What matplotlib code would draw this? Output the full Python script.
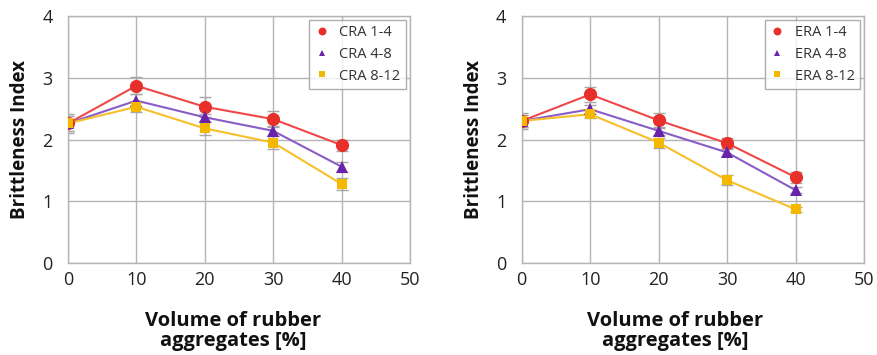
import matplotlib
matplotlib.use("Agg")
import matplotlib.pyplot as plt

volume = [0, 10, 20, 30, 40]

cra_labels = ["CRA 1-4", "CRA 4-8", "CRA 8-12"]
cra_14 = [2.26, 2.87, 2.53, 2.33, 1.91]
cra_48 = [2.26, 2.63, 2.36, 2.14, 1.56]
cra_812 = [2.26, 2.53, 2.18, 1.95, 1.28]
cra_14_err = [0.15, 0.14, 0.16, 0.13, 0.09]
cra_48_err = [0.12, 0.10, 0.06, 0.08, 0.08]
cra_812_err = [0.12, 0.08, 0.10, 0.10, 0.09]

era_labels = ["ERA 1-4", "ERA 4-8", "ERA 8-12"]
era_14 = [2.30, 2.73, 2.31, 1.94, 1.39]
era_48 = [2.30, 2.49, 2.14, 1.79, 1.18]
era_812 = [2.30, 2.41, 1.95, 1.34, 0.87]
era_14_err = [0.13, 0.12, 0.12, 0.08, 0.09]
era_48_err = [0.10, 0.07, 0.06, 0.06, 0.05]
era_812_err = [0.10, 0.06, 0.08, 0.08, 0.04]

x_ticks = [0, 10, 20, 30, 40, 50]
y_ticks = [0, 1, 2, 3, 4]

plt.rcParams["font.family"] = ["Open Sans", "DejaVu Sans"]

line_colors = ["#f04848", "#8a5cc8", "#f7c02a"]
marker_colors = ["#e8302a", "#6a22a8", "#f5b800"]
markers = ["o", "^", "s"]
msizes = [9.5, 8, 7.5]

fig = plt.figure(figsize=(8.78, 3.55), dpi=100)

def panel(rect, series, errs, labels, xlabel_x):
    ax = fig.add_axes(rect)
    for vals, err, lab, lc, mc, mk, ms in zip(series, errs, labels, line_colors,
                                               marker_colors, markers, msizes):
        ax.errorbar(volume, vals, yerr=err, fmt="none", ecolor="#a8a8a8",
                    elinewidth=1.0, capsize=4, capthick=1.0, zorder=2)
        ax.plot(volume, vals, color=lc, lw=1.5, zorder=3)
        ax.plot(volume, vals, linestyle="none", marker=mk, ms=ms, color=mc,
                markeredgewidth=0, zorder=4, label=lab)
    ax.set_xlim(0, 50)
    ax.set_ylim(0, 4)
    ax.set_xticks(x_ticks)
    ax.set_yticks(y_ticks)
    ax.grid(True, color="#b4b4b4", lw=1.0)
    ax.set_axisbelow(True)
    for s in ax.spines.values():
        s.set_color("#b4b4b4")
        s.set_linewidth(1.0)
    ax.tick_params(length=0, labelsize=13, colors="#222222")
    ax.tick_params(axis="x", pad=6)
    ax.tick_params(axis="y", pad=11)
    ax.set_ylabel("Brittleness Index", fontsize=13.5, fontweight="bold",
                  color="#111111", labelpad=9)
    leg = ax.legend(loc="upper right", fontsize=10.5, frameon=True, fancybox=False,
                    edgecolor="#9a9a9a", handlelength=1.0, handletextpad=0.7,
                    borderpad=0.35, labelspacing=0.45, markerscale=0.6,
                    borderaxespad=0.3)
    leg.get_frame().set_linewidth(1.0)
    for t in leg.get_texts():
        t.set_color("#333333")
    fig.text(xlabel_x, 0.012, "Volume of rubber\naggregates [%]", ha="center",
             va="bottom", fontsize=14.5, fontweight="bold", color="#111111",
             linespacing=0.95)
    return ax

panel([0.0774, 0.259, 0.3895, 0.696], [cra_14, cra_48, cra_812],
      [cra_14_err, cra_48_err, cra_812_err], cra_labels, 233 / 878)
panel([0.5942, 0.259, 0.3899, 0.696], [era_14, era_48, era_812],
      [era_14_err, era_48_err, era_812_err], era_labels, 675 / 878)

fig.savefig("out.png", dpi=100)
